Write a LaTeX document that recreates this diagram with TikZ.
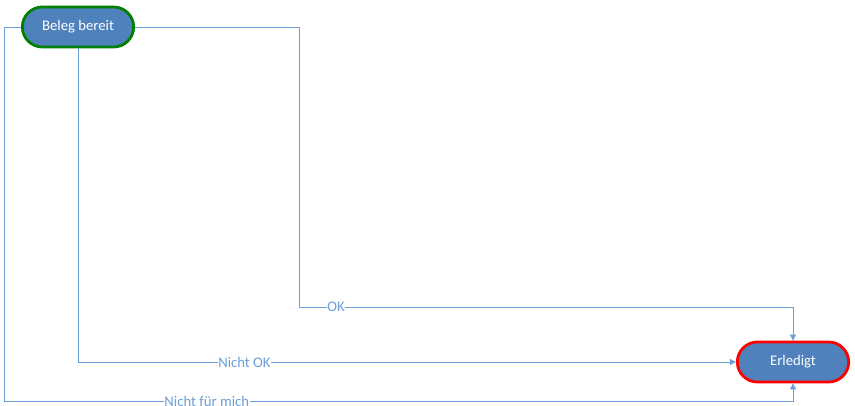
\documentclass[tikz,border=0pt]{standalone}
\usepackage{fontspec}
\setmainfont{Carlito}
\usetikzlibrary{arrows.meta}
\usetikzlibrary{shapes.misc}
\definecolor{stfill}{HTML}{4F81BD}
\definecolor{flowblue}{HTML}{6A9FD8}
\tikzset{
  state/.style={rounded rectangle, fill=stfill, text=white, line width=2.8pt,
    minimum width=118pt, minimum height=40pt, font=\fontsize{14.7}{17}\selectfont},
  flow/.style={draw=flowblue, line width=0.9pt, -{Triangle[length=6pt,width=6pt]}},
  lbl/.style={fill=white, text=flowblue, inner sep=0.5pt, font=\fontsize{14.7}{17}\selectfont}
}
\begin{document}
\begin{tikzpicture}[x=1pt,y=-1pt]
\useasboundingbox (0,0) rectangle (855,406);
\node[state, draw=green!50!black] (beleg) at (78,27) {Beleg bereit};
\node[state, draw=red] (erledigt) at (793,362) {Erledigt};
\draw[flow] (beleg.east) -- (299,27) -- (299,307)
  -- node[lbl, pos=0.075] {OK} (793,307) -- (erledigt.north);
\draw[flow] (beleg.south) -- (78,362)
  -- node[lbl, pos=0.253] {Nicht OK} (erledigt.west);
\draw[flow] (beleg.west) -- (4,27) -- (4,401)
  -- node[lbl, pos=0.257] {Nicht für mich} (793,401) -- (erledigt.south);
\end{tikzpicture}
\end{document}
